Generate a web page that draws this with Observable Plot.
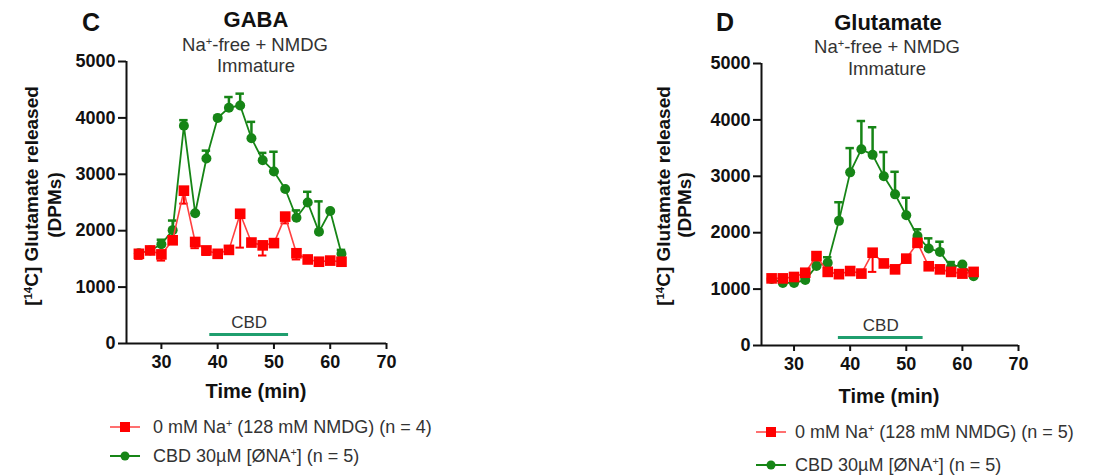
<!DOCTYPE html>
<html>
<head>
<meta charset="utf-8">
<script src="https://cdn.jsdelivr.net/npm/d3@7"></script>
<script src="https://cdn.jsdelivr.net/npm/@observablehq/plot@0.6"></script>
<style>
  html, body { margin: 0; padding: 0; background: #fff; }
  #wrap { position: relative; width: 1094px; height: 475px; overflow: hidden; font-family: "Liberation Sans", Arial, sans-serif; }
  .t { position: absolute; white-space: nowrap; line-height: 1; text-align: center; }
  .rot { position: absolute; white-space: nowrap; line-height: 1; transform: translate(-50%, -50%) rotate(-90deg); font-weight: bold; color: #111; }
  .plot { position: absolute; top: 0; }
  .leg { position: absolute; white-space: nowrap; line-height: 1; font-size: 18px; color: #333; display: flex; align-items: center; }
  sup { font-size: 0.6em; vertical-align: 0; position: relative; top: -0.55em; }
</style>
</head>
<body>
<div id="wrap"></div>
<script>
// ---------- data ----------
const time = [26, 28, 30, 32, 34, 36, 38, 40, 42, 44, 46, 48, 50, 52, 54, 56, 58, 60, 62];

// Panel C (GABA)
const gabaNaFree    = [1590, 1650, 1580, 1830, 2710, 1800, 1650, 1590, 1660, 2300, 1790, 1740, 1780, 2250, 1600, 1490, 1450, 1470, 1450];
const gabaNaFreeErr = [-90, -40, -110, -60, -230, -110, -80, -60, -40, -600, -60, -180, -50, -120, -110, -50, -40, -50, -60];
const gabaCBD       = [1600, 1650, 1760, 2010, 3860, 2310, 3280, 4000, 4180, 4220, 3640, 3250, 3050, 2740, 2230, 2500, 1980, 2350, 1590];
const gabaCBDErr    = [0, 50, 80, 170, 100, 0, 140, 0, 190, 210, 290, 130, 350, 0, 130, 190, 540, 0, 70];

// Panel D (Glutamate)
const gluNaFree    = [1190, 1190, 1215, 1290, 1585, 1305, 1265, 1320, 1275, 1645, 1455, 1350, 1540, 1820, 1405, 1350, 1305, 1275, 1305];
const gluNaFreeErr = [-50, -40, -40, -40, -60, -60, -40, -40, -40, -340, -60, -60, -40, -60, -40, -40, -40, -40, -40];
const gluCBD       = [1180, 1110, 1110, 1160, 1410, 1465, 2210, 3070, 3480, 3380, 3000, 2680, 2310, 1940, 1720, 1660, 1390, 1435, 1230];
const gluCBDErr    = [0, 0, 0, 40, 60, 100, 330, 430, 500, 490, 430, 400, 310, 120, 180, 180, 90, 0, 0];

// CBD application window (min)
const cbdWindowC = [{start: 38.6, end: 52.6, label: "CBD"}];
const cbdWindowD = [{start: 37.9, end: 53.0, label: "CBD"}];

const xTicks = [30, 40, 50, 60, 70];
const yTicks = [0, 1000, 2000, 3000, 4000, 5000];

const legendLabelsC = ["0 mM Na<sup>+</sup> (128 mM NMDG) (n = 4)", "CBD 30µM [ØNA<sup>+</sup>] (n = 5)"];
const legendLabelsD = ["0 mM Na<sup>+</sup> (128 mM NMDG) (n = 5)", "CBD 30µM [ØNA<sup>+</sup>] (n = 5)"];

const RED = "#ff0000", RED_LINE = "#ff4040", GREEN = "#168516", TEAL = "#1f9e6e";

// ---------- helpers ----------
function rows(vals, errs) { return time.map((t, i) => ({t, v: vals[i], e: errs[i]})); }

function panel({naFree, naErr, cbd, cbdErr, window, xmin, mL, mR, mT, mB, barDy}) {
  const red = rows(naFree, naErr), green = rows(cbd, cbdErr);
  const errMarks = (data, color, w) => [
    Plot.ruleX(data.filter(d => d.e !== 0), {x: "t", y1: "v", y2: d => d.v + d.e, stroke: color, strokeWidth: w}),
    Plot.ruleY(data.filter(d => d.e !== 0), {y: d => d.v + d.e, x1: d => d.t - 0.75, x2: d => d.t + 0.75, stroke: color, strokeWidth: w})
  ];
  return Plot.plot({
    width: 547, height: 400,
    marginLeft: mL, marginRight: mR, marginTop: mT, marginBottom: mB,
    style: {fontFamily: "'Liberation Sans', Arial, sans-serif", fontSize: "18px", fontWeight: "bold", color: "#111", background: "transparent", overflow: "visible"},
    x: {domain: [xmin, 70]},
    y: {domain: [0, 5000]},
    marks: [
      Plot.axisY({ticks: yTicks, tickSize: 8, tickPadding: 3, tickFormat: d => String(d), label: null, strokeWidth: 2}),
      Plot.axisX({ticks: xTicks, tickSize: 6, tickPadding: 6, tickFormat: d => String(d), label: null, strokeWidth: 2}),
      Plot.ruleX([xmin], {stroke: "#111", strokeWidth: 2}),
      Plot.ruleY([0], {stroke: "#111", strokeWidth: 2}),
      Plot.ruleY(window, {y: () => 0, x1: "start", x2: "end", dy: barDy, stroke: TEAL, strokeWidth: 3}),
      Plot.text(window, {x: d => (d.start + d.end) / 2, y: () => 0, text: "label", dy: barDy - 12, fill: "#333", fontWeight: "normal", fontSize: 17}),
      ...errMarks(green, GREEN, 2.5),
      Plot.line(green, {x: "t", y: "v", stroke: GREEN, strokeWidth: 1.8}),
      Plot.dot(green, {x: "t", y: "v", fill: GREEN, r: 5, symbol: "circle"}),
      ...errMarks(red, RED, 2),
      Plot.line(red, {x: "t", y: "v", stroke: RED_LINE, strokeWidth: 1.6}),
      Plot.dot(red, {x: "t", y: "v", fill: RED, r: 6, symbol: "square"})
    ]
  });
}

const wrap = document.getElementById("wrap");
function addText(html, cx, baseline, size, weight, color) {
  const d = document.createElement("div");
  d.className = "t";
  d.innerHTML = html;
  d.style.fontSize = size + "px";
  d.style.fontWeight = weight;
  d.style.color = color;
  d.style.left = (cx - 200) + "px";
  d.style.width = "400px";
  d.style.top = (baseline - 0.8465 * size) + "px";
  wrap.appendChild(d);
}
function addRot(html, cx, cy, size) {
  const d = document.createElement("div");
  d.className = "rot";
  d.innerHTML = html;
  d.style.fontSize = size + "px";
  d.style.left = cx + "px";
  d.style.top = cy + "px";
  wrap.appendChild(d);
}
function addLegend(labels, x0, ys, textX) {
  labels.forEach((lab, i) => {
    const isRed = i === 0;
    const d = document.createElement("div");
    d.className = "leg";
    d.style.left = x0 + "px";
    d.style.top = (ys[i] - 10) + "px";
    d.style.height = "20px";
    const sw = isRed
      ? `<svg width="30" height="20"><line x1="0" y1="10" x2="30" y2="10" stroke="#ff7070" stroke-width="2"/><rect x="10" y="5" width="10" height="10" fill="${RED}"/></svg>`
      : `<svg width="30" height="20"><line x1="0" y1="10" x2="30" y2="10" stroke="${GREEN}" stroke-width="2"/><circle cx="15" cy="10" r="4.5" fill="${GREEN}"/></svg>`;
    d.innerHTML = sw + `<span style="margin-left:${textX - x0 - 30}px">${lab}</span>`;
    wrap.appendChild(d);
  });
}

// ---------- panel C ----------
const pc = panel({naFree: gabaNaFree, naErr: gabaNaFreeErr, cbd: gabaCBD, cbdErr: gabaCBDErr, window: cbdWindowC,
  xmin: 23.8, mL: 126, mR: 161, mT: 61, mB: 57, barDy: -9});
pc.classList.add("plot"); pc.style.left = "0px";
wrap.appendChild(pc);

// ---------- panel D ----------
const pd = panel({naFree: gluNaFree, naErr: gluNaFreeErr, cbd: gluCBD, cbdErr: gluCBDErr, window: cbdWindowD,
  xmin: 24.2, mL: 214, mR: 76, mT: 63, mB: 55, barDy: -8});
pd.classList.add("plot"); pd.style.left = "547px";
wrap.appendChild(pd);

// ---------- titles ----------
addText("C", 91, 31, 25, "bold", "#111");
addText("GABA", 256, 28, 22, "bold", "#111");
addText("Na<sup>+</sup>-free + NMDG", 255, 52, 18.5, "normal", "#333");
addText("Immature", 256, 73, 18.5, "normal", "#333");

addText("D", 725, 31, 25, "bold", "#111");
addText("Glutamate", 888, 31, 22, "bold", "#111");
addText("Na<sup>+</sup>-free + NMDG", 887, 54, 18.5, "normal", "#333");
addText("Immature", 887, 76, 18.5, "normal", "#333");

// axis titles
addText("Time (min)", 256, 398, 20, "bold", "#111");
addText("Time (min)", 889, 403, 20, "bold", "#111");
addRot("[<sup>14</sup>C] Glutamate released", 31, 196, 19);
addRot("(DPMs)", 54, 205, 19);
addRot("[<sup>14</sup>C] Glutamate released", 663, 196, 19);
addRot("(DPMs)", 684, 205, 19);

// legends
addLegend(legendLabelsC, 110, [427, 456], 153);
addLegend(legendLabelsD, 756, [432, 465], 795);
</script>
</body>
</html>
